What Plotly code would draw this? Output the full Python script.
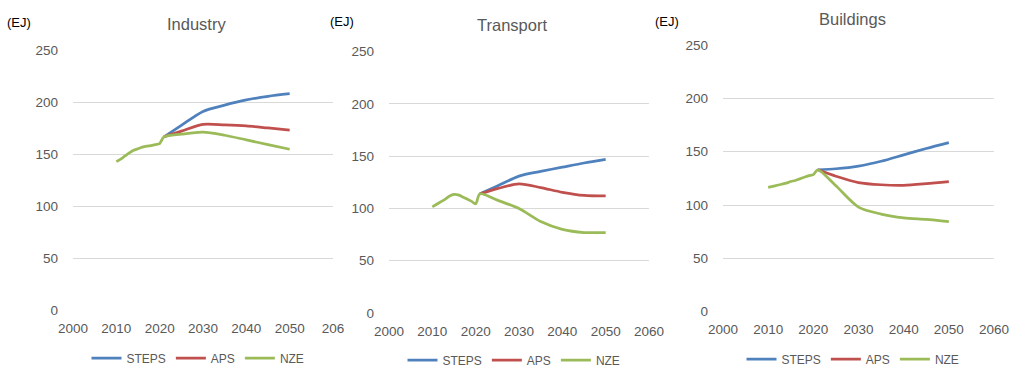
import plotly.graph_objects as go

# ---------------- data ----------------
hist_years = list(range(2010, 2022))
proj_years = [2021, 2025, 2030, 2035, 2040, 2045, 2050]

scenarios = ["STEPS", "APS", "NZE"]
sectors = ["Industry", "Transport", "Buildings"]

industry_hist = [143, 145.5, 148.5, 151.5, 154, 155.5, 157, 158, 158.5, 159.5, 160.5, 167]
industry_steps = [167, 178, 191.5, 197.5, 202.5, 206, 208.5]
industry_aps = [167, 172.5, 179, 178.5, 177.5, 175.5, 173.5]
industry_nze = [167, 169.5, 171.5, 168.5, 164, 159.5, 155]

transport_hist = [101.5, 104, 106.5, 109, 112, 113.5, 113, 111, 109, 107, 104.5, 114]
transport_steps = [114, 121.5, 131, 135.5, 139.5, 143.5, 147]
transport_aps = [114, 119, 123.5, 120, 115.5, 112.5, 112]
transport_nze = [114, 108, 100, 87.5, 80, 77, 77]

buildings_hist = [116.5, 117.5, 118.5, 119.5, 120.5, 122, 123, 124.5, 126, 127.5, 128.5, 133]
buildings_steps = [133, 134, 136.5, 141, 147, 153, 158.5]
buildings_aps = [133, 127, 121, 119, 118.5, 120, 122]
buildings_nze = [133, 118, 98, 91.5, 88, 86.5, 84.5]

x_tickvals = [2000, 2010, 2020, 2030, 2040, 2050, 2060]
x_ticktext_industry = ["2000", "2010", "2020", "2030", "2040", "2050", "206"]
x_ticktext_full = ["2000", "2010", "2020", "2030", "2040", "2050", "2060"]
y_tickvals = [0, 50, 100, 150, 200, 250]
unit_label = "(EJ)"

colors = {"STEPS": "#4F81BD", "APS": "#C0504D", "NZE": "#9BBB59"}

# ---------------- layout geometry (pixels in the 1024x377 page) ----------------
W, H = 1024, 377
panels = [
    dict(name="Industry", hist=industry_hist, steps=industry_steps, aps=industry_aps, nze=industry_nze,
         x0=73, x1=333, ybot=310, ytop=50.7, ticktext=x_ticktext_industry,
         title_xy=(196, 24), unit_xy=(19, 23), legend_xy=(198, 358)),
    dict(name="Transport", hist=transport_hist, steps=transport_steps, aps=transport_aps, nze=transport_nze,
         x0=389, x1=649, ybot=313, ytop=51.7, ticktext=x_ticktext_full,
         title_xy=(512, 25), unit_xy=(342, 22), legend_xy=(514, 360)),
    dict(name="Buildings", hist=buildings_hist, steps=buildings_steps, aps=buildings_aps, nze=buildings_nze,
         x0=723, x1=994, ybot=311.7, ytop=45, ticktext=x_ticktext_full,
         title_xy=(852, 19), unit_xy=(667, 21), legend_xy=(853, 359)),
]


def px(x):
    return x / W


def py(y):
    return (H - y) / H


FONT = "Liberation Sans, Arial, sans-serif"
GRAY = "#595959"

fig = go.Figure()
layout = dict(
    template="none",
    width=W, height=H,
    margin=dict(l=0, r=0, t=0, b=0, pad=0, autoexpand=False),
    paper_bgcolor="white", plot_bgcolor="white",
    font=dict(family=FONT, color=GRAY, size=13),
    annotations=[],
)

for i, p in enumerate(panels):
    n = "" if i == 0 else str(i + 1)
    xa, ya = "x" + n, "y" + n
    lg = "legend" + n
    series = {
        "STEPS": (proj_years, p["steps"]),
        "APS": (proj_years, p["aps"]),
        "NZE": (hist_years + proj_years[1:], p["hist"] + p["nze"][1:]),
    }
    for s in scenarios:
        xs, ys = series[s]
        fig.add_trace(go.Scatter(
            x=xs, y=ys, mode="lines", name=s,
            line=dict(color=colors[s], width=2.75, shape="spline", smoothing=0.8),
            xaxis=xa, yaxis=ya, legend=lg, showlegend=True,
        ))
    layout["xaxis" + n] = dict(
        domain=[px(p["x0"]), px(p["x1"])], range=[2000, 2060], anchor=ya,
        tickvals=x_tickvals, ticktext=p["ticktext"], showgrid=False, zeroline=False,
        showline=False, ticks="", ticklabelstandoff=8, automargin=False,
        tickfont=dict(size=13.5, color=GRAY, family=FONT),
    )
    layout["yaxis" + n] = dict(
        domain=[py(p["ybot"]), py(p["ytop"])], range=[0, 250], anchor=xa,
        tickvals=y_tickvals, showgrid=True, gridcolor="#D9D9D9", gridwidth=1,
        zeroline=False, showline=False, ticks="", ticklabelstandoff=14, automargin=False,
        tickfont=dict(size=13.5, color=GRAY, family=FONT),
    )
    layout[lg] = dict(
        orientation="h", x=px(p["legend_xy"][0]), y=py(p["legend_xy"][1]),
        xanchor="center", yanchor="middle", font=dict(size=12, color=GRAY, family=FONT),
        bgcolor="rgba(0,0,0,0)", itemwidth=30, tracegroupgap=0,
    )
    layout["annotations"].append(dict(
        text=p["name"], x=px(p["title_xy"][0]), y=py(p["title_xy"][1]),
        xref="paper", yref="paper", showarrow=False, xanchor="center", yanchor="middle",
        font=dict(size=16.5, color=GRAY, family=FONT),
    ))
    layout["annotations"].append(dict(
        text=unit_label, x=px(p["unit_xy"][0]), y=py(p["unit_xy"][1]),
        xref="paper", yref="paper", showarrow=False, xanchor="center", yanchor="middle",
        font=dict(size=13, color="#000000", family=FONT),
    ))

fig.update_layout(**layout)
fig.write_html(
    "out.html",
    config={"displayModeBar": False},
    post_script="document.body.style.margin='0';document.body.style.overflow='hidden';",
)
